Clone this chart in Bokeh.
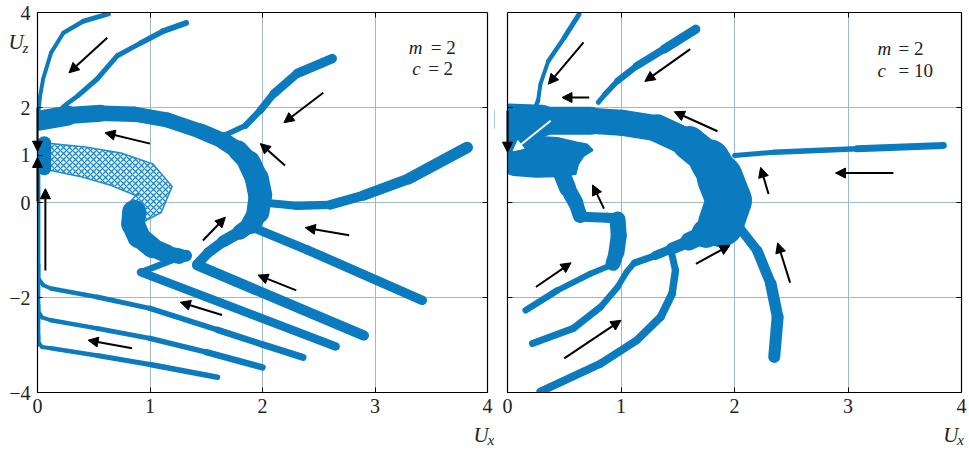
import numpy as np
from bokeh.plotting import figure
from bokeh.models import LinearAxis, FixedTicker, Grid, Label, Arrow, NormalHead
from bokeh.layouts import row
from bokeh.embed import file_html
from bokeh.resources import INLINE

BLUE = "#0b7bbf"
MESH = "#1f8ccb"
GRID = "#9fb9cc"
FONT = "Liberation Serif"

# ---------------- Left panel (m = 2, c = 2) ----------------
L_top1_x = [0.01, 0.02, 0.05, 0.12, 0.23, 0.41, 0.63]
L_top1_z = [1.95, 2.20, 2.60, 3.15, 3.57, 3.82, 3.97]
L_top1_w = [4, 4, 4, 4, 4, 5, 5]

L_top2_x = [0.20, 0.23, 0.36, 0.53, 0.71, 0.92, 1.12, 1.32]
L_top2_z = [1.95, 2.02, 2.25, 2.60, 3.09, 3.36, 3.61, 3.78]
L_top2_w = [4, 4, 5, 5, 5, 5, 6, 6]

L_arc_x = [0.00, 0.27, 0.56, 0.86, 1.15, 1.45, 1.65, 1.78, 1.88, 1.95, 1.98, 1.96, 1.90, 1.80, 1.65, 1.52, 1.42]
L_arc_z = [1.72, 1.83, 1.88, 1.86, 1.74, 1.50, 1.30, 1.10, 0.85, 0.50, 0.15, -0.20, -0.45, -0.62, -0.82, -1.05, -1.30]
L_arc_w = [22, 18, 16, 15, 15, 15, 16, 18, 22, 24, 24, 22, 18, 13, 11, 10, 10]

L_ur_x = [1.65, 1.85, 1.98, 2.10, 2.31, 2.62]
L_ur_z = [1.40, 1.62, 1.94, 2.29, 2.72, 3.03]
L_ur_w = [5, 6, 7, 8, 9, 10]

L_rt_x = [2.00, 2.30, 2.60, 2.90, 3.30, 3.82]
L_rt_z = [0.00, -0.07, -0.05, 0.15, 0.50, 1.16]
L_rt_w = [8, 8, 9, 10, 11, 12]

L_lr_x = [1.95, 2.40, 3.42]
L_lr_z = [-0.56, -1.00, -2.06]
L_lr_w = [9, 9, 10]

L_zz1_x = [1.30, 0.92, 2.65]
L_zz1_z = [-1.12, -1.47, -3.03]
L_zz1_w = [5, 8, 9]

L_zz2_x = [1.42, 2.90]
L_zz2_z = [-1.32, -2.80]
L_zz2_w = [10, 11]

L_c_x = [0.86, 0.85, 0.90, 1.02, 1.15, 1.26, 1.32]
L_c_z = [-0.20, -0.45, -0.72, -0.95, -1.08, -1.13, -1.12]
L_c_w = [24, 24, 22, 20, 17, 14, 10]

L_b1_x = [0.01, 0.01, 0.05, 0.12, 0.53, 1.00, 1.60, 2.00, 2.36]
L_b1_z = [-1.30, -1.60, -1.74, -1.81, -1.99, -2.23, -2.68, -2.99, -3.26]
L_b1_w = [3, 4, 4, 4, 5, 5, 6, 7, 7]

L_b2_x = [0.01, 0.01, 0.04, 0.12, 0.53, 1.00, 1.50, 2.00]
L_b2_z = [-2.15, -2.30, -2.42, -2.48, -2.65, -2.86, -3.15, -3.47]
L_b2_w = [3, 4, 4, 4, 5, 5, 6, 7]

L_b3_x = [0.01, 0.01, 0.04, 0.12, 0.53, 1.00, 1.60]
L_b3_z = [-2.80, -2.95, -3.04, -3.07, -3.22, -3.41, -3.68]
L_b3_w = [3, 4, 4, 4, 5, 5, 6]

L_axis_x = [0.012, 0.012]
L_axis_z = [-3.00, 0.75]
L_axis_w = [3, 3]

L_knot_x = [0.06, 0.06]
L_knot_z = [0.72, 1.25]
L_knot_w = [14, 14]

# chaotic mesh band: centre line and width (px)
L_mesh_x = [0.06, 0.40, 0.70, 0.95, 1.05, 1.00, 0.88]
L_mesh_z = [0.98, 0.86, 0.70, 0.48, 0.25, 0.00, -0.20]
L_mesh_w = [26, 30, 34, 36, 34, 30, 24]

# arrows: start (x0, z0) -> end (x1, z1)
L_arr_x0 = [0.62, 2.54, 1.00, 2.20, 1.47, 2.77, 2.30, 1.64, 0.84, 0.07, 0.00, 0.00]
L_arr_z0 = [3.47, 2.31, 1.24, 0.78, -0.80, -0.69, -1.85, -2.37, -3.07, -1.43, 0.02, 2.00]
L_arr_x1 = [0.28, 2.19, 0.60, 1.98, 1.67, 2.38, 1.96, 1.27, 0.45, 0.07, 0.00, 0.00]
L_arr_z1 = [2.73, 1.68, 1.47, 1.24, -0.31, -0.53, -1.53, -2.10, -2.90, 0.29, 0.95, 1.08]

# ---------------- Right panel (m = 2, c = 10) ----------------
R_arc_x = [0.00, 0.30, 0.73, 1.00, 1.32, 1.60, 1.78, 1.87, 1.95, 1.88]
R_arc_z = [1.75, 1.72, 1.72, 1.68, 1.56, 1.25, 0.90, 0.53, 0.04, -0.45]
R_arc_w = [34, 30, 26, 26, 26, 30, 38, 44, 48, 44]

R_low_x = [1.88, 1.75, 1.60, 1.45, 1.30, 1.12]
R_low_z = [-0.45, -0.65, -0.82, -0.97, -1.12, -1.27]
R_low_w = [36, 22, 14, 10, 8, 6]

R_blob_x = [0.00, 0.44, 0.60, 0.70, 0.75, 0.67, 0.62, 0.60, 0.44, 0.25, 0.05, 0.00]
R_blob_z = [1.42, 1.36, 1.27, 1.22, 1.10, 0.98, 0.80, 0.60, 0.55, 0.54, 0.58, 0.62]

R_in1_x = [0.48, 0.53, 0.60, 0.64]
R_in1_z = [0.60, 0.30, 0.00, -0.28]
R_in1_w = [18, 16, 15, 14]

R_in2_x = [0.64, 0.88, 0.98]
R_in2_z = [-0.30, -0.32, -0.33]
R_in2_w = [10, 10, 10]

R_in3_x = [0.97, 0.98, 0.96, 0.93]
R_in3_z = [-0.36, -0.70, -1.05, -1.28]
R_in3_w = [16, 16, 16, 14]

R_c1_x = [0.90, 0.73, 0.44, 0.16]
R_c1_z = [-1.33, -1.50, -1.85, -2.27]
R_c1_w = [6, 6, 6, 7]

R_c2_x = [1.11, 1.05, 0.97, 0.82, 0.58, 0.22]
R_c2_z = [-1.29, -1.46, -1.78, -2.20, -2.65, -2.97]
R_c2_w = [6, 6, 6, 7, 7, 7]

R_c3_x = [1.45, 1.48, 1.45, 1.35, 1.14, 0.82, 0.29]
R_c3_z = [-1.11, -1.43, -1.92, -2.41, -2.90, -3.39, -3.98]
R_c3_w = [7, 7, 8, 8, 8, 8, 8]

R_lr_x = [2.04, 2.20, 2.32, 2.38, 2.35]
R_lr_z = [-0.52, -1.01, -1.71, -2.41, -3.25]
R_lr_w = [9, 10, 11, 12, 12]

R_rt_x = [2.00, 2.35, 3.08, 3.84]
R_rt_z = [0.99, 1.06, 1.13, 1.20]
R_rt_w = [5, 5, 6, 8]

R_u1_x = [0.25, 0.27, 0.29, 0.36, 0.50, 0.63]
R_u1_z = [2.03, 2.15, 2.49, 2.98, 3.47, 3.96]
R_u1_w = [5, 4, 4, 4, 5, 5]

R_u2_x = [0.80, 0.86, 0.97, 1.14, 1.38, 1.66]
R_u2_z = [2.11, 2.28, 2.56, 2.88, 3.23, 3.65]
R_u2_w = [5, 5, 6, 7, 8, 10]

R_arr_x0 = [0.67, 1.61, 0.72, 1.85, 2.30, 3.40, 0.85, 0.25, 1.66, 2.49, 0.50, 0.00]
R_arr_z0 = [3.37, 3.23, 2.21, 1.50, 0.18, 0.62, -0.13, -1.78, -1.29, -1.69, -3.28, 1.93]
R_arr_x1 = [0.36, 1.21, 0.48, 1.47, 2.23, 2.89, 0.75, 0.56, 1.96, 2.38, 1.00, 0.00]
R_arr_z1 = [2.49, 2.55, 2.21, 1.91, 0.74, 0.62, 0.37, -1.27, -0.90, -0.85, -2.48, 1.06]

R_white_x = [0.38, 0.05]
R_white_z = [1.72, 1.09]

# axes / ticks
box_x = [0, 4]
box_z = [-4, 4]
x_ticks = [0, 1, 2, 3, 4]
y_ticks_left = [-4, -2, 0, 1, 2, 4]
y_ticks_plain = [-4, -2, 0, 2, 4]
x_grid = [1, 2, 3]
z_grid = [-2, 0, 2]
y_labels = {-4: "\u22124", -2: "\u22122", 0: "0", 1: "1", 2: "2", 4: "4"}

H = 450
PX_X_L = 112.5   # px per unit, left box
PX_X_R = 113.5   # px per unit, right box
PX_Z = 47.5      # px per unit (both)


def traj(p, xs, zs, ws, color=BLUE):
    sx = [[xs[i], xs[i + 1]] for i in range(len(xs) - 1)]
    sz = [[zs[i], zs[i + 1]] for i in range(len(zs) - 1)]
    sw = [0.5 * (ws[i] + ws[i + 1]) for i in range(len(ws) - 1)]
    p.multi_line(sx, sz, line_width=sw, line_color=color,
                 line_cap="round", line_join="round")


def band_polygon(xs, zs, ws, kx, kz):
    X = np.array(xs, float) * kx
    Z = np.array(zs, float) * kz
    dx = np.gradient(X)
    dz = np.gradient(Z)
    L = np.hypot(dx, dz)
    nx, nz = -dz / L, dx / L
    h = np.array(ws, float) / 2
    px = np.concatenate([X + nx * h, (X - nx * h)[::-1]]) / kx
    pz = np.concatenate([Z + nz * h, (Z - nz * h)[::-1]]) / kz
    return list(px), list(pz)


def make_fig(width, left_px, kx):
    # frame fills the whole canvas; the box [0,4]x[-4,4] is drawn by fixed axes
    x0 = box_x[0] - left_px / kx
    x1 = x0 + width / kx
    z1 = box_z[1] + 12 / PX_Z
    z0 = z1 - H / PX_Z
    p = figure(width=width, height=H, x_range=(x0, x1), y_range=(z0, z1),
               x_axis_type=None, y_axis_type=None, min_border=0,
               output_backend="svg", toolbar_location=None,
               background_fill_color="white", border_fill_color="white",
               outline_line_color=None)
    p.add_layout(Grid(dimension=0, ticker=FixedTicker(ticks=x_grid),
                      grid_line_color=GRID, grid_line_width=1))
    p.add_layout(Grid(dimension=1, ticker=FixedTicker(ticks=z_grid),
                      grid_line_color=GRID, grid_line_width=1))
    return p, (x0, x1, z0, z1)


def finish_fig(p, ext, ylabels):
    x0, x1, z0, z1 = ext
    # white masks outside the box (emulate clipping of the curves)
    p.quad(left=[x0, box_x[1], x0, x0], right=[box_x[0], x1, x1, x1],
           bottom=[z0, z0, box_z[1], z0], top=[z1, z1, z1, box_z[0]],
           fill_color="white", line_color=None)
    common = dict(major_tick_in=5, major_tick_out=0, minor_tick_line_color=None,
                  axis_line_color="black", axis_line_width=1.2,
                  major_tick_line_color="black", major_label_text_font=FONT)
    p.add_layout(LinearAxis(ticker=FixedTicker(ticks=x_ticks), fixed_location=box_z[0],
                            bounds=tuple(box_x), major_label_standoff=6,
                            major_label_text_color="#222222",
                            major_label_text_font_size="20px", **common), "below")
    if ylabels:
        ly = LinearAxis(ticker=FixedTicker(ticks=y_ticks_left), fixed_location=box_x[0],
                        bounds=tuple(box_z), major_label_standoff=7,
                        major_label_text_color="#222222",
                        major_label_text_font_size="20px",
                        major_label_overrides=y_labels, **common)
    else:
        ly = LinearAxis(ticker=FixedTicker(ticks=y_ticks_plain), fixed_location=box_x[0],
                        bounds=tuple(box_z), major_label_standoff=0,
                        major_label_text_color=None, **common)
    p.add_layout(ly, "left")
    p.add_layout(LinearAxis(ticker=FixedTicker(ticks=x_grid), fixed_location=box_z[1],
                            bounds=tuple(box_x), major_label_standoff=0,
                            major_label_text_color=None, **common), "above")
    p.add_layout(LinearAxis(ticker=FixedTicker(ticks=z_grid), fixed_location=box_x[1],
                            bounds=tuple(box_z), major_label_standoff=0,
                            major_label_text_color=None, **common), "right")


def arrows(p, x0, z0, x1, z1, color="black"):
    for a, b, c, d in zip(x0, z0, x1, z1):
        p.add_layout(Arrow(x_start=a, y_start=b, x_end=c, y_end=d,
                           line_color=color, line_width=2,
                           end=NormalHead(size=10, fill_color=color, line_color=color,
                                          line_width=1)))


def txt(p, x, y, text, size="19px", style="italic", xo=0, yo=0):
    p.add_layout(Label(x=x, y=y, text=text, x_offset=xo, y_offset=yo,
                       text_font=FONT, text_font_size=size, text_font_style=style,
                       text_color="#222222", text_baseline="middle", text_align="left"))


# ---------- left figure ----------
pl, ext_l = make_fig(494, 37, PX_X_L)
mx, mz = band_polygon(L_mesh_x, L_mesh_z, L_mesh_w, PX_X_L, PX_Z)
pl.patch(mx, mz, fill_color="#e4f1fa", fill_alpha=0.8, hatch_pattern="diagonal_cross",
         hatch_color=MESH, hatch_scale=6, hatch_weight=1.3, line_color=MESH, line_width=1.5)
for xs, zs, ws in [(L_top1_x, L_top1_z, L_top1_w), (L_top2_x, L_top2_z, L_top2_w),
                   (L_arc_x, L_arc_z, L_arc_w), (L_ur_x, L_ur_z, L_ur_w),
                   (L_rt_x, L_rt_z, L_rt_w), (L_lr_x, L_lr_z, L_lr_w),
                   (L_zz1_x, L_zz1_z, L_zz1_w), (L_zz2_x, L_zz2_z, L_zz2_w),
                   (L_c_x, L_c_z, L_c_w), (L_b1_x, L_b1_z, L_b1_w),
                   (L_b2_x, L_b2_z, L_b2_w), (L_b3_x, L_b3_z, L_b3_w),
                   (L_axis_x, L_axis_z, L_axis_w), (L_knot_x, L_knot_z, L_knot_w)]:
    traj(pl, xs, zs, ws)
finish_fig(pl, ext_l, True)
arrows(pl, L_arr_x0, L_arr_z0, L_arr_x1, L_arr_z1)
txt(pl, -0.258, 3.38, "U", size="21px")
txt(pl, -0.258, 3.38, "z", size="15px", xo=14, yo=-6)
txt(pl, 3.876, -4.89, "U", size="21px")
txt(pl, 3.876, -4.89, "x", size="15px", xo=14, yo=-5)
txt(pl, 3.30, 3.26, "m")
txt(pl, 3.30, 3.26, "= 2", style="normal", xo=22)
txt(pl, 3.33, 2.82, "c")
txt(pl, 3.33, 2.82, "= 2", style="normal", xo=16)

# ---------- right figure ----------
pr, ext_r = make_fig(475, 13, PX_X_R)
pr.patch(R_blob_x, R_blob_z, fill_color=BLUE, line_color=BLUE, line_width=2)
for xs, zs, ws in [(R_arc_x, R_arc_z, R_arc_w), (R_low_x, R_low_z, R_low_w),
                   (R_in1_x, R_in1_z, R_in1_w), (R_in2_x, R_in2_z, R_in2_w),
                   (R_in3_x, R_in3_z, R_in3_w), (R_c1_x, R_c1_z, R_c1_w),
                   (R_c2_x, R_c2_z, R_c2_w), (R_c3_x, R_c3_z, R_c3_w),
                   (R_lr_x, R_lr_z, R_lr_w), (R_rt_x, R_rt_z, R_rt_w),
                   (R_u1_x, R_u1_z, R_u1_w), (R_u2_x, R_u2_z, R_u2_w)]:
    traj(pr, xs, zs, ws)
finish_fig(pr, ext_r, False)
arrows(pr, R_arr_x0, R_arr_z0, R_arr_x1, R_arr_z1)
arrows(pr, [R_white_x[0]], [R_white_z[0]], [R_white_x[1]], [R_white_z[1]], color="white")
txt(pr, 3.84, -4.89, "U", size="21px")
txt(pr, 3.84, -4.89, "x", size="15px", xo=14, yo=-5)
txt(pr, 3.26, 3.24, "m")
txt(pr, 3.26, 3.24, "= 2", style="normal", xo=21)
txt(pr, 3.26, 2.78, "c")
txt(pr, 3.26, 2.78, "= 10", style="normal", xo=21)

layout = row(pl, pr)
open("out.html", "w").write(file_html(layout, INLINE))
